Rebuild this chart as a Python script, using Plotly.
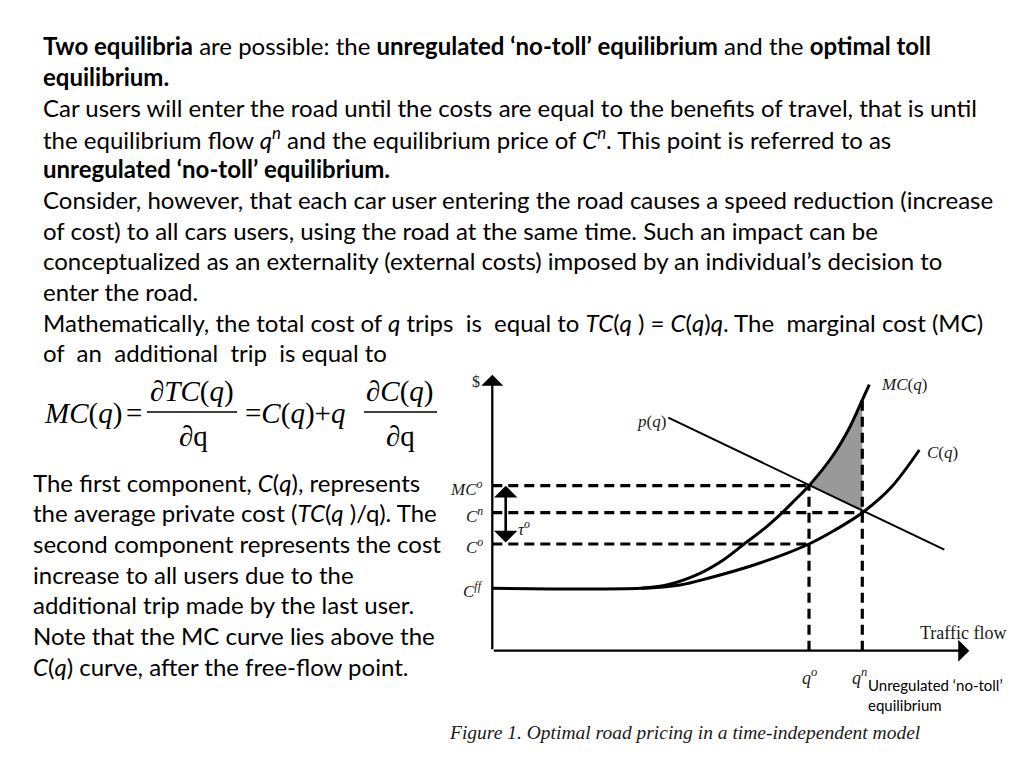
import numpy as np
import plotly.graph_objects as go

# ---- values (flow and cost in the diagram's own units) ----
# average cost C(q): flat at free-flow cost, then rising
avg_q = [0, 149, 187.7, 217.7, 257.7, 294.4, 316.7, 341, 370, 398, 427]
avg_cost = [62.4, 62.4, 65.7, 73, 84.5, 97.4, 106.7, 119.7, 138, 162.4, 200.7]

# marginal cost MC(q): leaves the flat part at the free-flow point
mc_q = [149, 174.4, 207.7, 231, 252.7, 274.4, 289.4, 302.7, 316.7, 341, 357.7, 370, 377]
mc_cost = [62.4, 65.7, 77.4, 90.7, 107.4, 124, 137.5, 150.7, 165, 195.7, 224, 250.7, 266]

# demand / benefit p(q): straight line
demand_q = [176, 452]
demand_p = [233, 101]

# equilibrium flows and cost levels
q_opt, q_noll = 316.7, 370
level_names = ["MC<sup>o</sup>", "C<sup>n</sup>", "C<sup>o</sup>", "C<sup>ff</sup>"]
level_values = [165, 138, 106.7, 62.4]

x_end, y_end = 477, 276

# slide text
top_lines = [
    "<b>Two equilibria</b> are possible: the <b>unregulated ‘no-toll’ equilibrium</b> and the <b>optimal toll</b>",
    "<b>equilibrium.</b>",
    "Car users will enter the road until the costs are equal to the benefits of travel, that is until",
    "the equilibrium flow <i>q<sup>n</sup></i> and the equilibrium price of <i>C<sup>n</sup></i>. This point is referred to as",
    "<b>unregulated ‘no-toll’ equilibrium.</b>",
    "Consider, however, that each car user entering the road causes a speed reduction (increase",
    "of cost) to all cars users, using the road at the same time. Such an impact can be",
    "conceptualized as an externality (external costs) imposed by an individual’s decision to",
    "enter the road.",
    "Mathematically, the total cost of <i>q</i> trips \u00a0is \u00a0equal to <i>TC</i>(<i>q</i> ) = <i>C</i>(<i>q</i>)<i>q</i>. The \u00a0marginal cost (MC)",
    "of \u00a0an \u00a0additional \u00a0trip \u00a0is equal to",
]
left_lines = [
    "The first component, <i>C</i>(<i>q</i>), represents",
    "the average private cost (<i>TC</i>(<i>q</i> )/q). The",
    "second component represents the cost",
    "increase to all users due to the",
    "additional trip made by the last user.",
    "Note that the MC curve lies above the",
    "<i>C</i>(<i>q</i>) curve, after the free-flow point.",
]

# page has an 8px body margin, so the figure is a bit smaller than the window
W, H = 1008, 752
M = 8
ox, oy = 492.3, 650.7  # diagram origin in window px


def px(x):
    return (x - M) / W


def py(y):
    return 1 - (y - M) / H


fig = go.Figure()

# shaded welfare loss between MC and p(q), from q_opt to q_noll
sel = [i for i, q in enumerate(mc_q) if q_opt <= q <= q_noll]
shade_x = [mc_q[i] for i in sel] + [q_noll, q_opt]
shade_y = [mc_cost[i] for i in sel] + [float(np.interp(q_noll, demand_q, demand_p)),
                                       float(np.interp(q_opt, demand_q, demand_p))]
fig.add_trace(go.Scatter(x=shade_x, y=shade_y, fill="toself", fillcolor="#999999",
                         line=dict(width=0), mode="lines", hoverinfo="skip"))

dash = "10px,6px"
# dashed guides
mc_top = float(np.interp(q_noll, mc_q, mc_cost))
guides = [
    ([0, q_opt], [level_values[0]] * 2),
    ([0, q_noll], [level_values[1]] * 2),
    ([0, q_opt], [level_values[2]] * 2),
    ([q_opt, q_opt], [0, level_values[0]]),
    ([q_noll, q_noll], [0, mc_top]),
]
for gx, gy in guides:
    fig.add_trace(go.Scatter(x=gx, y=gy, mode="lines",
                             line=dict(color="black", width=3.2, dash=dash)))

fig.add_trace(go.Scatter(x=demand_q, y=demand_p, mode="lines", line=dict(color="black", width=2)))
fig.add_trace(go.Scatter(x=avg_q, y=avg_cost, mode="lines", line_shape="spline",
                         line=dict(color="black", width=3, smoothing=1)))
fig.add_trace(go.Scatter(x=mc_q, y=mc_cost, mode="lines", line_shape="spline",
                         line=dict(color="black", width=3, smoothing=1)))

ann = []
# axes with arrow heads
for tx, ty in [(x_end, 0), (0, y_end)]:
    ann.append(dict(x=tx, y=ty, ax=0, ay=0, xref="x", yref="y", axref="x", ayref="y",
                    showarrow=True, arrowhead=1, arrowsize=1.6, arrowwidth=2.3,
                    arrowcolor="black", text=""))
# toll double arrow
ann.append(dict(x=13.4, y=level_values[0], ax=13.4, ay=level_values[2], xref="x", yref="y",
                axref="x", ayref="y", showarrow=True, arrowhead=1, arrowside="end+start",
                arrowsize=1.5, arrowwidth=2.6, arrowcolor="black", text=""))

serif = "Liberation Serif"


def diag_label(x, y, text, size=14, anchor="center"):
    ann.append(dict(x=px(x), y=py(y), xref="paper", yref="paper", text=text, showarrow=False,
                    xanchor=anchor, yanchor="middle", font=dict(family=serif, size=size, color="#1a1a1a")))


diag_label(476, 381, "$", 16)
for name, val in zip(level_names, level_values):
    diag_label(ox - 7, oy - val + 2, "<i>" + name + "</i>", 17, "right")
diag_label(516, 528, "<i>τ<sup>o</sup></i>", 17, "left")
diag_label(651, 421, "<i>p</i>(<i>q</i>)", 17)
diag_label(879, 384, "<i>MC</i>(<i>q</i>)", 17, "left")
diag_label(925, 452, "<i>C</i>(<i>q</i>)", 17, "left")
diag_label(1009, 633, "Traffic flow", 18, "right")
diag_label(ox + q_opt, 676, "<i>q<sup>o</sup></i>", 18)
diag_label(ox + q_noll - 3, 676, "<i>q<sup>n</sup></i>", 18)
diag_label(447, 732, "<i>Figure 1. Optimal road pricing in a time-independent model</i>", 19.5, "left")

for t, y in [("Unregulated ‘no-toll’", 685), ("equilibrium", 705)]:
    ann.append(dict(x=px(866), y=py(y), xref="paper", yref="paper", text=t, showarrow=False,
                    xanchor="left", yanchor="middle", font=dict(family="Lato", size=15, color="black")))

for i, t in enumerate(top_lines):
    ann.append(dict(x=px(41), y=py(46 + i * 30.7), xref="paper", yref="paper", text=t,
                    showarrow=False, xanchor="left", yanchor="middle",
                    font=dict(family="Lato", size=24, color="black")))
for i, t in enumerate(left_lines):
    ann.append(dict(x=px(31), y=py(482 + i * 30.7), xref="paper", yref="paper", text=t,
                    showarrow=False, xanchor="left", yanchor="middle",
                    font=dict(family="Lato", size=24, color="black")))

# formula MC(q) = dTC(q)/dq = C(q) + q dC(q)/dq
pieces = [
    (42, 413, "<i>MC</i>(<i>q</i>)", "left"),
    (134, 413, "=", "center"),
    (192, 391, "∂<i>TC</i>(<i>q</i>)", "center"),
    (193, 436, "∂q", "center"),
    (243, 413, "=<i>C</i>(<i>q</i>)+<i>q</i>", "left"),
    (400, 391, "∂<i>C</i>(<i>q</i>)", "center"),
    (400, 436, "∂q", "center"),
]
for x, y, t, a in pieces:
    ann.append(dict(x=px(x), y=py(y), xref="paper", yref="paper", text=t, showarrow=False,
                    xanchor=a, yanchor="middle", font=dict(family=serif, size=29, color="black")))
shapes = [
    dict(type="line", xref="paper", yref="paper", x0=px(147), x1=px(237), y0=py(412), y1=py(412),
         line=dict(color="black", width=1.5)),
    dict(type="line", xref="paper", yref="paper", x0=px(364), x1=px(437), y0=py(412), y1=py(412),
         line=dict(color="black", width=1.5)),
]

fig.update_layout(
    width=W, height=H, margin=dict(l=0, r=0, t=0, b=0),
    paper_bgcolor="white", plot_bgcolor="white", showlegend=False,
    xaxis=dict(domain=[px(ox), px(ox + x_end)], range=[0, x_end], visible=False, fixedrange=True),
    yaxis=dict(domain=[py(oy), py(oy - y_end)], range=[0, y_end], visible=False, fixedrange=True),
    annotations=ann, shapes=shapes,
)
fig.write_html("out.html")
